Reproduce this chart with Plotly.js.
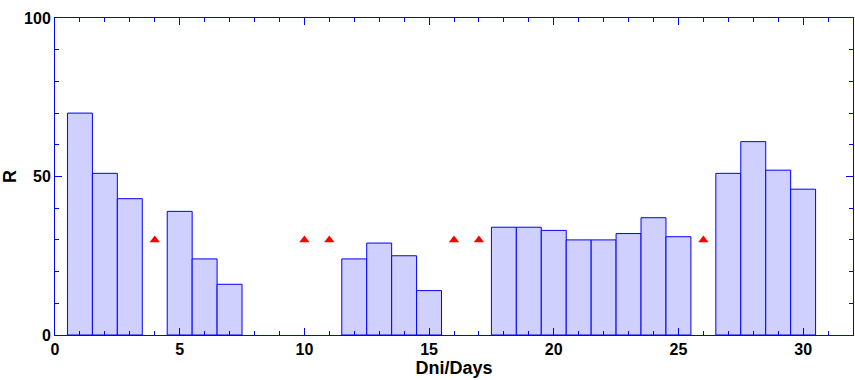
<!DOCTYPE html>
<html>
<head>
<meta charset="utf-8">
<script src="https://cdn.plot.ly/plotly-3.0.1.min.js"></script>
<style>html,body{margin:0;padding:0;background:#fff;}#chart{width:855px;height:380px;}</style>
</head>
<body>
<div id="chart"></div>
<script>
var days = [1,2,3,4,5,6,7,8,9,10,11,12,13,14,15,16,17,18,19,20,21,22,23,24,25,26,27,28,29,30];
var rValues = [70,51,43,null,39,24,16,null,null,null,null,24,29,25,14,null,null,34,34,33,30,30,32,37,31,null,51,61,52,46];
var markerDays = [4,10,11,16,17,26];
var markerValues = [30,30,30,30,30,30];
var xTickVals = [0,5,10,15,20,25,30];
var yTickVals = [0,50,100];

var traces = [
  {type:'bar', x:days, y:rValues, width:1,
   marker:{color:'#D0D0FF', line:{color:'#0000FF', width:1}}, hoverinfo:'x+y'},
  {type:'scatter', mode:'markers', x:markerDays, y:markerValues,
   marker:{symbol:'triangle-up', size:9, color:'#FF0000'}}
];

var fam = 'Liberation Sans, Arial, sans-serif';
var titleFont = {family:fam, size:18, color:'#000'};
var layout = {
  width:855, height:380,
  margin:{l:55, r:2, t:18, b:45},
  showlegend:false,
  plot_bgcolor:'#fff', paper_bgcolor:'#fff',
  bargap:0,
  xaxis:{range:[0,32], tickvals:xTickVals, ticks:'inside', ticklen:7, tickcolor:'#0000FF',
    showline:true, linecolor:'#0000FF', linewidth:1, mirror:'ticks', showgrid:false, zeroline:false,
    minor:{dtick:1, tick0:0, ticks:'inside', ticklen:4, tickcolor:'#0000FF', showgrid:false},
    tickfont:{family:fam, size:16, color:'#000', weight:'bold'},
    title:{text:'<b>Dni/Days</b>', font:titleFont, standoff:3}},
  yaxis:{range:[0,100], tickvals:yTickVals, ticks:'inside', ticklen:7, tickcolor:'#0000FF',
    showline:true, linecolor:'#0000FF', linewidth:1, mirror:'ticks', showgrid:false, zeroline:false,
    minor:{dtick:10, tick0:0, ticks:'inside', ticklen:4, tickcolor:'#0000FF', showgrid:false},
    tickfont:{family:fam, size:16, color:'#000', weight:'bold'},
    title:{text:'<b>R</b>', font:titleFont, standoff:4}}
};
Plotly.newPlot('chart', traces, layout, {staticPlot:true});
</script>
</body>
</html>
